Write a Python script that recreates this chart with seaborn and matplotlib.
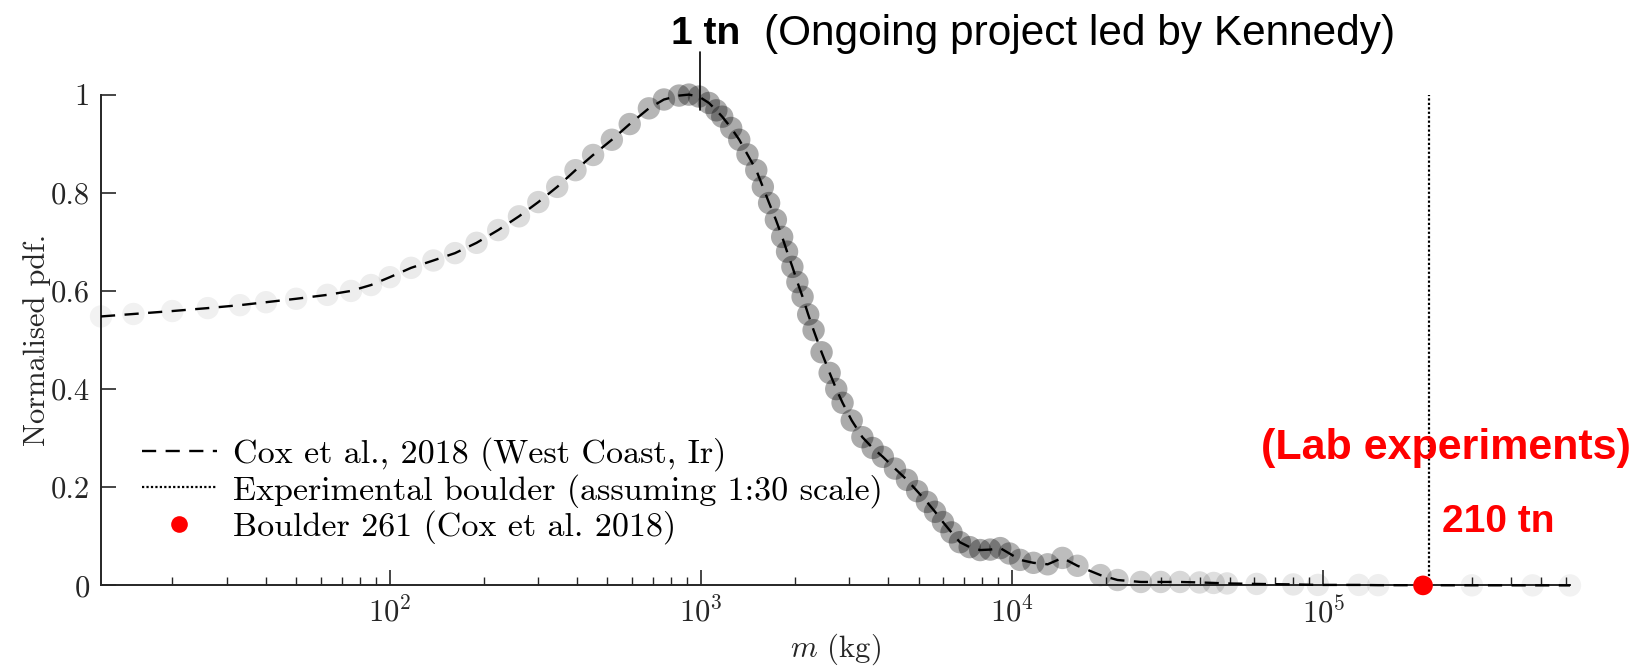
import numpy as np
import pandas as pd
import matplotlib
matplotlib.use("Agg")
import matplotlib.pyplot as plt
from matplotlib.lines import Line2D
from matplotlib.ticker import FixedLocator, FixedFormatter, LogLocator, NullFormatter
import seaborn as sns

# ---------------- data ----------------
mass_kg = [11.8, 15, 20, 26, 33, 40, 50, 63, 75, 87, 100, 117, 138, 162, 190, 223,
           260, 300, 345, 395, 450, 517, 590, 680, 760, 850, 914, 985, 1060, 1120,
           1170, 1250, 1327, 1410, 1505, 1580, 1655, 1740, 1823, 1890, 1966, 2040,
           2120, 2210, 2300, 2440, 2590, 2720, 2850, 3050, 3300, 3560, 3840, 4200,
           4590, 4950, 5320, 5650, 5990, 6380, 6790, 7300, 7890, 8500, 9150, 9800,
           10600, 11700, 13000, 14500, 16200, 19200, 21800, 25900, 30000, 34600,
           40000, 44400, 49000, 61000, 80000, 96000, 130000, 150000, 300000,
           470000, 620000]
pdf_norm = [0.548, 0.553, 0.559, 0.565, 0.571, 0.577, 0.584, 0.592, 0.600, 0.612,
            0.628, 0.647, 0.662, 0.677, 0.698, 0.724, 0.752, 0.781, 0.812, 0.846,
            0.877, 0.908, 0.940, 0.972, 0.990, 0.998, 1.000, 0.996, 0.983, 0.968,
            0.955, 0.932, 0.908, 0.878, 0.846, 0.812, 0.779, 0.745, 0.710, 0.680,
            0.649, 0.618, 0.588, 0.552, 0.520, 0.475, 0.433, 0.400, 0.372, 0.336,
            0.302, 0.280, 0.262, 0.238, 0.215, 0.192, 0.170, 0.150, 0.129, 0.108,
            0.088, 0.078, 0.072, 0.073, 0.076, 0.065, 0.052, 0.046, 0.043, 0.056,
            0.040, 0.021, 0.011, 0.007, 0.007, 0.007, 0.006, 0.005, 0.004, 0.003,
            0.002, 0.001, 0.001, 0.0005, 0.0002, 0.0001, 0.0]

experimental_mass = 2.18e5   # 210 tn boulder at 1:30 scale
boulder261_mass = 2.09e5
boulder261_pdf = 0.0
one_tn_mass = 990

y_ticks = [0, 0.2, 0.4, 0.6, 0.8, 1]
y_tick_labels = ["0", "0.2", "0.4", "0.6", "0.8", "1"]
x_limits = [11.8, 6.2e5]

label_cox = "Cox et al., 2018 (West Coast, Ir)"
label_exp = "Experimental boulder (assuming 1:30 scale)"
label_b261 = "Boulder 261 (Cox et al. 2018)"

df = pd.DataFrame({"m": mass_kg, "pdf": pdf_norm})

# ---------------- style ----------------
sns.set_theme(style="ticks")
plt.rcParams["font.family"] = ["cmr10", "DejaVu Serif"]
plt.rcParams["mathtext.fontset"] = "cm"
plt.rcParams["axes.formatter.use_mathtext"] = True
plt.rcParams["axes.unicode_minus"] = False

W, H = 1648, 668
fig = plt.figure(figsize=(W / 100, H / 100), dpi=100)
ax_left, ax_right, ax_bottom, ax_top = 101, 1570, 585.4, 94.6
ax = fig.add_axes([ax_left / W, 1 - ax_bottom / H, (ax_right - ax_left) / W,
                   (ax_bottom - ax_top) / H])
ax.set_xscale("log")

axis_col = "#262626"

# gray circles (data points), darker where data are dense
sns.scatterplot(data=df, x="m", y="pdf", ax=ax, s=260, color="black",
                edgecolor="none", linewidth=0, clip_on=False, zorder=2,
                legend=False)
coll = ax.collections[-1]
lm = np.log10(df["m"].to_numpy())
alphas = np.interp(lm, [1.0, 2.0, 2.4, 2.8, 3.0, 3.9, 4.3, 4.7, 5.2, 6.0],
                   [0.05, 0.07, 0.13, 0.28, 0.33, 0.33, 0.22, 0.11, 0.06, 0.05])
rgba = np.zeros((len(lm), 4))
rgba[:, 3] = alphas
coll.set_alpha(None)
coll.set_facecolor(rgba)

# dashed pdf curve
sns.lineplot(data=df, x="m", y="pdf", ax=ax, color="black", lw=1.7,
             linestyle=(0, (6, 4)), zorder=4, estimator=None, sort=True,
             clip_on=False)

# experimental boulder vertical dotted line
ax.axvline(experimental_mass, ymin=0, ymax=1, color="black", lw=1.6,
           linestyle=(0, (1, 1)), zorder=3)

# Boulder 261
sns.scatterplot(x=[boulder261_mass], y=[boulder261_pdf], ax=ax, color="red",
                s=200, edgecolor="none", clip_on=False, zorder=6, legend=False)

# 1 tn marker line
ax.plot([one_tn_mass, one_tn_mass], [0.969, 1.087], color="black", lw=1.2,
        clip_on=False, zorder=5)

ax.set_xlim(*x_limits)
ax.set_ylim(0, 1)
ax.yaxis.set_major_locator(FixedLocator(y_ticks))
ax.yaxis.set_major_formatter(FixedFormatter(y_tick_labels))
ax.xaxis.set_major_locator(LogLocator(base=10, numticks=12))
ax.xaxis.set_minor_locator(LogLocator(base=10, subs=np.arange(2, 10), numticks=12))
ax.xaxis.set_minor_formatter(NullFormatter())

for side in ["top", "right"]:
    ax.spines[side].set_visible(False)
for side in ["left", "bottom"]:
    ax.spines[side].set_color(axis_col)
    ax.spines[side].set_linewidth(1.4)

ax.tick_params(axis="both", which="major", direction="in", length=11, width=1.2,
               color=axis_col, labelcolor=axis_col, labelsize=22, pad=8)
ax.tick_params(axis="x", which="minor", direction="in", length=5.5, width=1.0,
               color=axis_col)
ax.tick_params(axis="y", which="minor", left=False)

ax.set_xlabel("$m$ (kg)", fontsize=22, color=axis_col, labelpad=2)
ax.set_ylabel("Normalised pdf.", fontsize=22, color=axis_col, labelpad=0)

# legend
handles = [
    Line2D([], [], color="black", lw=1.7, linestyle=(0, (6, 4))),
    Line2D([], [], color="black", lw=1.6, linestyle=(0, (1, 1))),
    Line2D([], [], color="red", marker="o", markersize=12, linestyle="none",
           markeredgewidth=0),
]
leg = ax.legend(handles, [label_cox, label_exp, label_b261], loc="upper left",
                bbox_to_anchor=(142 / W, 1 - 437 / H), bbox_transform=fig.transFigure,
                frameon=False, fontsize=24.5, handlelength=2.2, handletextpad=0.47,
                labelspacing=0.08, borderpad=0, borderaxespad=0)
for t in leg.get_texts():
    t.set_color("black")

# annotations
sans = ["Liberation Sans", "DejaVu Sans"]
fig.text(706 / W, 1 - 34 / H, "1 tn", family=sans, weight="bold", fontsize=28,
         ha="center", va="center", color="black")
fig.text(1080 / W, 1 - 34 / H, "(Ongoing project led by Kennedy)", family=sans,
         fontsize=30.5, ha="center", va="center", color="black")
fig.text(1446 / W, 1 - 448 / H, "(Lab experiments)", family=sans, weight="bold",
         fontsize=31, ha="center", va="center", color="red")
fig.text(1498 / W, 1 - 522 / H, "210 tn", family=sans, weight="bold", fontsize=28,
         ha="center", va="center", color="red")

fig.savefig("out.png", dpi=100)
